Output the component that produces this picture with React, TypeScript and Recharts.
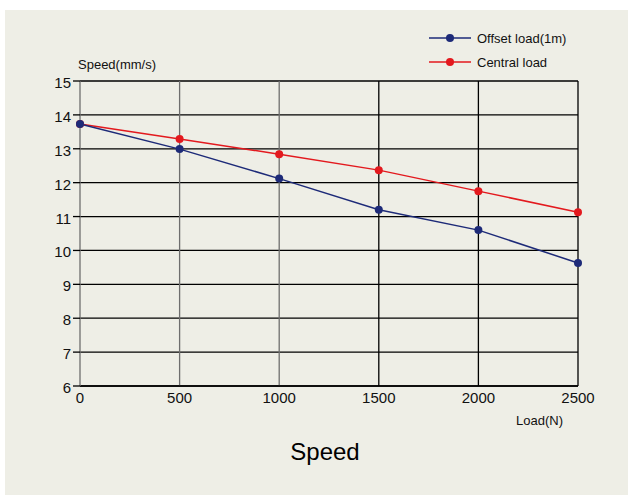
import React from "react";
import {
  LineChart,
  Line,
  XAxis,
  YAxis,
  CartesianGrid,
  ReferenceLine,
} from "recharts";

const loads = [0, 500, 1000, 1500, 2000, 2500];
const offsetLoad = [13.73, 12.99, 12.12, 11.2, 10.6, 9.63];
const centralLoad = [13.73, 13.29, 12.84, 12.37, 11.75, 11.13];
const yTicks = [6, 7, 8, 9, 10, 11, 12, 13, 14, 15];
const xTicks = [0, 500, 1000, 1500, 2000, 2500];

const seriesNames = ["Offset load(1m)", "Central load"];
const seriesColors = ["#1d2a78", "#e3191e"];

const data = loads.map((l, i) => ({
  load: l,
  offset: offsetLoad[i],
  central: centralLoad[i],
}));

const FONT = "'Liberation Sans', Arial, Helvetica, sans-serif";

const YTick = (props: any) => {
  const { x, y, payload } = props;
  return (
    <text
      x={x}
      y={y + 7}
      textAnchor="end"
      fontSize={15}
      fontFamily={FONT}
      fill="#111"
    >
      {payload.value}
    </text>
  );
};

const XTick = (props: any) => {
  const { x, payload } = props;
  return (
    <text
      x={x}
      y={403}
      textAnchor="middle"
      fontSize={15}
      fontFamily={FONT}
      fill="#111"
    >
      {payload.value}
    </text>
  );
};

const gridStroke = (v: number) => (v <= 1000 ? "#6e6e6e" : "#000");

export default function App() {
  return (
    <div
      style={{
        position: "absolute",
        left: 0,
        top: 0,
        width: 628,
        height: 495,
        background: "#ffffff",
      }}
    >
      <div
        style={{
          position: "absolute",
          left: 5,
          top: 10,
          width: 623,
          height: 485,
          background: "#eeeee6",
        }}
      />
      <div style={{ position: "absolute", left: 0, top: 0 }}>
        <LineChart
          width={628}
          height={495}
          data={data}
          margin={{ top: 81, right: 50, left: 0, bottom: 0 }}
        >
          <CartesianGrid
            vertical={false}
            stroke="#000"
            strokeWidth={1.3}
            strokeOpacity={1}
          />
          {xTicks.slice(1).map((v) => (
            <ReferenceLine
              key={v}
              x={v}
              stroke={gridStroke(v)}
              strokeWidth={1.3}
              ifOverflow="visible"
            />
          ))}
          <XAxis
            dataKey="load"
            type="number"
            domain={[0, 2500]}
            ticks={xTicks}
            tickLine={false}
            axisLine={{ stroke: "#000", strokeWidth: 1.3 }}
            tick={<XTick />}
            height={109}
            interval={0}
          />
          <YAxis
            type="number"
            domain={[6, 15]}
            ticks={yTicks}
            width={80}
            tickSize={7}
            tickLine={{ stroke: "#000", strokeWidth: 1.3 }}
            axisLine={{ stroke: "#6e6e6e", strokeWidth: 1.3 }}
            tick={<YTick />}
            interval={0}
          />
          <Line
            dataKey="central"
            name={seriesNames[1]}
            stroke={seriesColors[1]}
            strokeWidth={1.5}
            dot={{ r: 4, fill: seriesColors[1], stroke: "none" }}
            isAnimationActive={false}
          />
          <Line
            dataKey="offset"
            name={seriesNames[0]}
            stroke={seriesColors[0]}
            strokeWidth={1.5}
            dot={{ r: 4, fill: seriesColors[0], stroke: "none" }}
            isAnimationActive={false}
          />
          <text x={78} y={69} fontSize={13} fontFamily={FONT} fill="#111">
            Speed(mm/s)
          </text>
          <text x={516} y={425} fontSize={13} fontFamily={FONT} fill="#111">
            Load(N)
          </text>
          <text
            x={325}
            y={460}
            textAnchor="middle"
            fontSize={24}
            fontFamily={FONT}
            fill="#000"
          >
            Speed
          </text>
          {seriesNames.map((n, i) => (
            <g key={n}>
              <line
                x1={429}
                x2={471}
                y1={38 + i * 24}
                y2={38 + i * 24}
                stroke={seriesColors[i]}
                strokeWidth={1.5}
              />
              <circle cx={450} cy={38 + i * 24} r={4} fill={seriesColors[i]} />
              <text
                x={477}
                y={43 + i * 24}
                fontSize={13}
                fontFamily={FONT}
                fill="#111"
              >
                {n}
              </text>
            </g>
          ))}
        </LineChart>
      </div>
    </div>
  );
}
